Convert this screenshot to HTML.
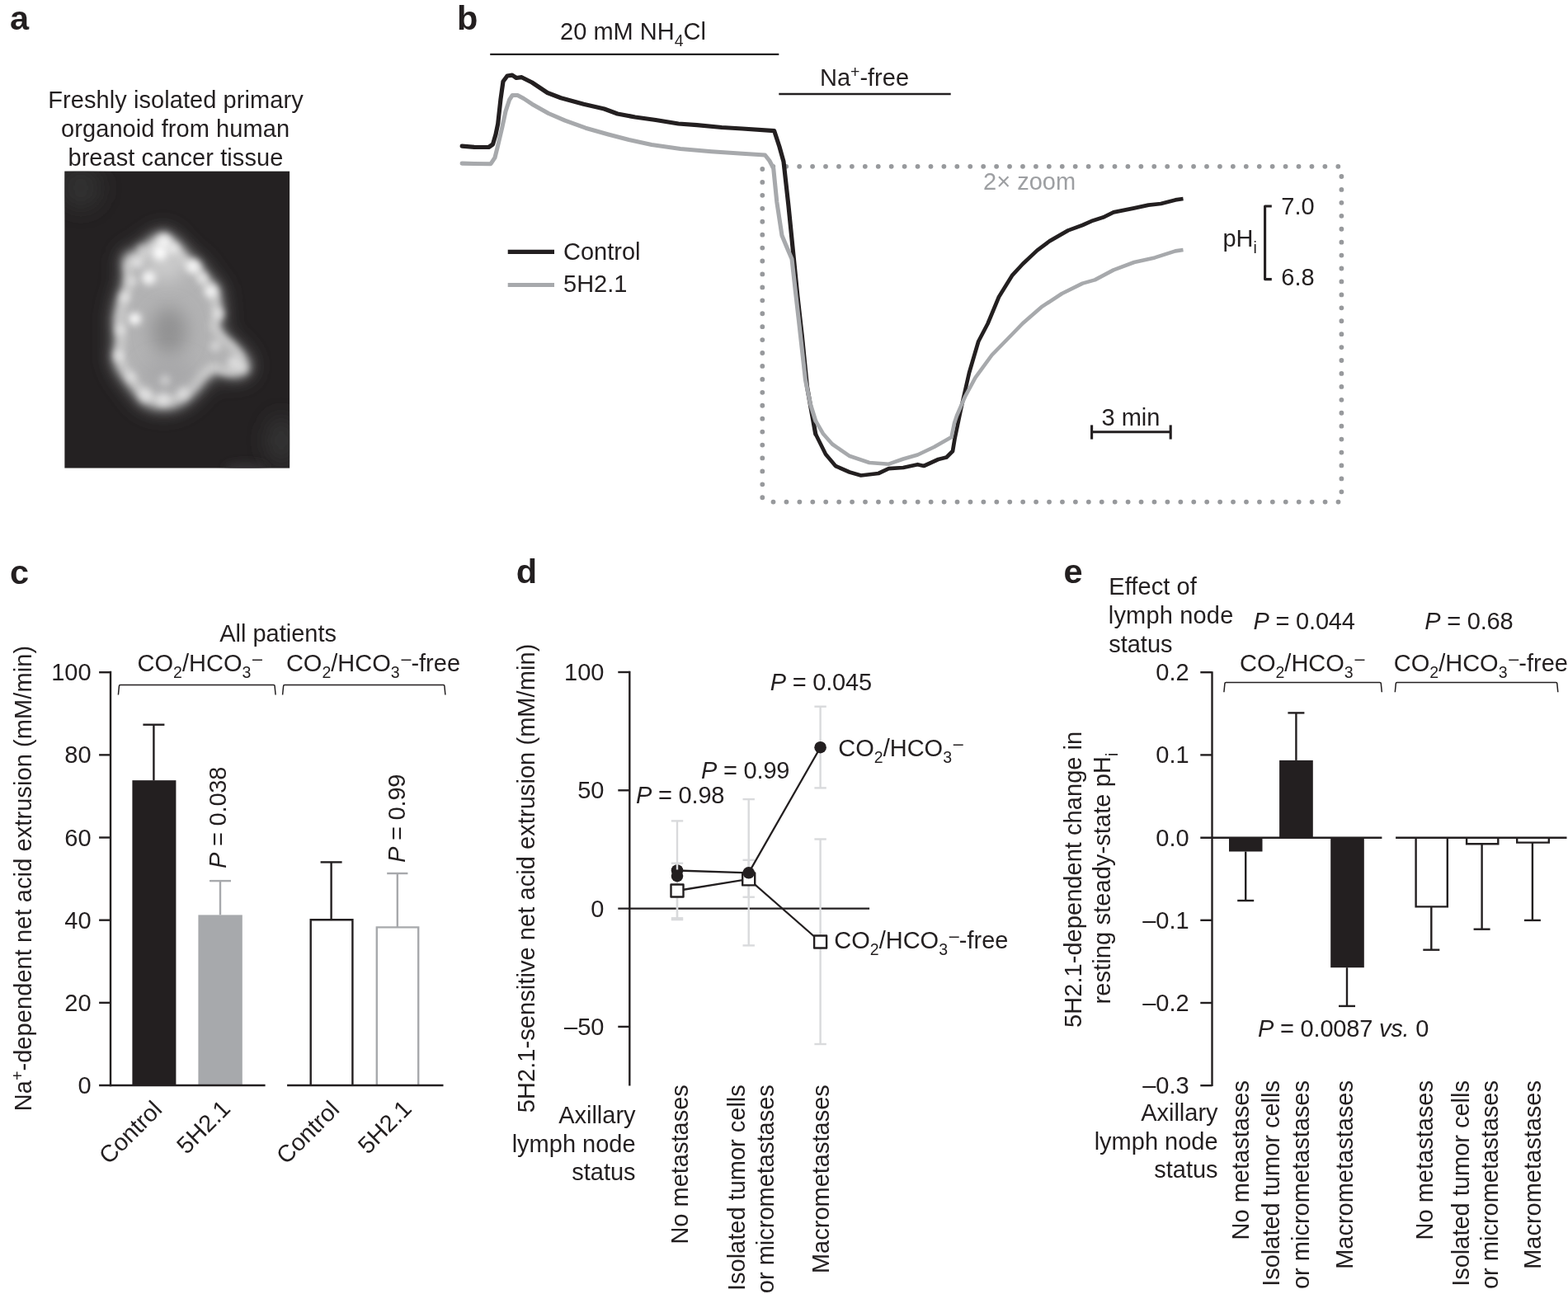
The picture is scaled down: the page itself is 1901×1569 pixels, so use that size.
<!DOCTYPE html>
<html lang="en">
<head>
<meta charset="utf-8">
<title>Figure</title>
<style>
html,body{margin:0;padding:0;background:#fff;}
body{width:1901px;height:1569px;overflow:hidden;}
svg{display:block;font-family:'Liberation Sans', sans-serif;}
</style>
</head>
<body>
<svg width="1901" height="1569" viewBox="0 0 1901 1569">
<defs>
<filter id="b6" filterUnits="userSpaceOnUse" x="0" y="120" width="440" height="540"><feGaussianBlur stdDeviation="5.5"/></filter>
<filter id="b3" x="-100%" y="-100%" width="300%" height="300%"><feGaussianBlur stdDeviation="4.2"/></filter>
<filter id="b8" filterUnits="userSpaceOnUse" x="0" y="120" width="440" height="540"><feGaussianBlur stdDeviation="8"/></filter>
<filter id="b10" filterUnits="userSpaceOnUse" x="0" y="120" width="440" height="540"><feGaussianBlur stdDeviation="11"/></filter>
<filter id="b16" filterUnits="userSpaceOnUse" x="0" y="120" width="440" height="540"><feGaussianBlur stdDeviation="13"/></filter>
<clipPath id="imgclip"><rect x="78.2" y="207.4" width="273.1" height="360.3"/></clipPath>
</defs>
<text x="11.90" y="36.00" font-size="41.50" fill="#231f20" font-weight="bold"><tspan>a</tspan></text>
<text x="554.00" y="36.00" font-size="41.50" fill="#231f20" font-weight="bold"><tspan>b</tspan></text>
<text x="12.10" y="708.00" font-size="41.50" fill="#231f20" font-weight="bold"><tspan>c</tspan></text>
<text x="625.70" y="707.40" font-size="41.50" fill="#231f20" font-weight="bold"><tspan>d</tspan></text>
<text x="1289.50" y="706.80" font-size="41.50" fill="#231f20" font-weight="bold"><tspan>e</tspan></text>
<text x="213.00" y="131.00" font-size="29.00" fill="#231f20" text-anchor="middle" letter-spacing="0.070"><tspan>Freshly isolated primary</tspan></text>
<text x="212.60" y="166.00" font-size="29.00" fill="#231f20" text-anchor="middle" letter-spacing="0.070"><tspan>organoid from human</tspan></text>
<text x="212.90" y="201.00" font-size="29.00" fill="#231f20" text-anchor="middle" letter-spacing="0.070"><tspan>breast cancer tissue</tspan></text>
<g clip-path="url(#imgclip)">
<rect x="78.20" y="207.40" width="273.10" height="360.30" fill="#242122"/>
<circle cx="98" cy="228" r="26" fill="#323132" filter="url(#b16)"/>
<ellipse cx="341" cy="534" rx="18" ry="30" fill="#353435" filter="url(#b16)"/>
<ellipse cx="298" cy="568" rx="26" ry="7" fill="#343334" filter="url(#b6)"/>
<g transform="translate(208,395) scale(0.985) translate(-208,-395)">
<polygon points="199.8,280.0 213.0,290.8 227.3,310.0 241.6,317.0 251.2,333.8 265.5,348.0 268.0,367.3 270.3,381.6 265.5,396.0 275.0,410.3 289.4,422.3 301.4,436.6 303.8,448.6 294.2,457.0 279.9,457.0 265.5,451.0 251.2,460.5 239.3,474.9 224.9,489.2 208.2,496.4 189.0,496.4 172.3,490.4 160.4,474.9 150.8,462.9 141.3,448.6 136.5,434.2 140.0,415.1 137.7,386.4 142.5,362.5 149.6,343.4 150.8,326.7 148.4,312.3 155.6,305.2 167.5,302.8 177.1,293.2 189.0,283.7" fill="#4a494a" stroke="#4a494a" stroke-width="10" stroke-linejoin="round" filter="url(#b16)"/>
<polygon points="199.8,280.0 213.0,290.8 227.3,310.0 241.6,317.0 251.2,333.8 265.5,348.0 268.0,367.3 270.3,381.6 265.5,396.0 275.0,410.3 289.4,422.3 301.4,436.6 303.8,448.6 294.2,457.0 279.9,457.0 265.5,451.0 251.2,460.5 239.3,474.9 224.9,489.2 208.2,496.4 189.0,496.4 172.3,490.4 160.4,474.9 150.8,462.9 141.3,448.6 136.5,434.2 140.0,415.1 137.7,386.4 142.5,362.5 149.6,343.4 150.8,326.7 148.4,312.3 155.6,305.2 167.5,302.8 177.1,293.2 189.0,283.7" fill="#6e6d6e" stroke="#6e6d6e" stroke-width="6" stroke-linejoin="round" filter="url(#b8)"/>
<polygon points="199.8,280.0 213.0,290.8 227.3,310.0 241.6,317.0 251.2,333.8 265.5,348.0 268.0,367.3 270.3,381.6 265.5,396.0 275.0,410.3 289.4,422.3 301.4,436.6 303.8,448.6 294.2,457.0 279.9,457.0 265.5,451.0 251.2,460.5 239.3,474.9 224.9,489.2 208.2,496.4 189.0,496.4 172.3,490.4 160.4,474.9 150.8,462.9 141.3,448.6 136.5,434.2 140.0,415.1 137.7,386.4 142.5,362.5 149.6,343.4 150.8,326.7 148.4,312.3 155.6,305.2 167.5,302.8 177.1,293.2 189.0,283.7" fill="#b2b2b3" filter="url(#b6)"/>
<polygon points="199.8,280.0 213.0,290.8 227.3,310.0 241.6,317.0 251.2,333.8 265.5,348.0 268.0,367.3 270.3,381.6 265.5,396.0 275.0,410.3 289.4,422.3 301.4,436.6 303.8,448.6 294.2,457.0 279.9,457.0 265.5,451.0 251.2,460.5 239.3,474.9 224.9,489.2 208.2,496.4 189.0,496.4 172.3,490.4 160.4,474.9 150.8,462.9 141.3,448.6 136.5,434.2 140.0,415.1 137.7,386.4 142.5,362.5 149.6,343.4 150.8,326.7 148.4,312.3 155.6,305.2 167.5,302.8 177.1,293.2 189.0,283.7" fill="none" stroke="#d2d2d2" stroke-width="9" stroke-linejoin="round" filter="url(#b6)" transform="translate(205,392) scale(0.9) translate(-205,-392)"/>
<ellipse cx="205" cy="402" rx="22" ry="30" fill="#929293" filter="url(#b10)"/>
<ellipse cx="205" cy="455" rx="34" ry="20" fill="#a4a4a5" fill-opacity="0.7" filter="url(#b10)"/>
<ellipse cx="200" cy="318" rx="26" ry="22" fill="#d4d4d4" fill-opacity="0.75" filter="url(#b10)"/>
<circle cx="198.6" cy="291" r="8.5" fill="#ffffff" fill-opacity="0.75" filter="url(#b3)"/>
<circle cx="193.8" cy="305" r="9.5" fill="#ffffff" fill-opacity="0.9" filter="url(#b3)"/>
<circle cx="180" cy="336" r="8.5" fill="#ffffff" fill-opacity="0.85" filter="url(#b3)"/>
<circle cx="234.5" cy="322" r="8.5" fill="#ffffff" fill-opacity="0.8" filter="url(#b3)"/>
<circle cx="256" cy="353" r="7.5" fill="#ffffff" fill-opacity="0.8" filter="url(#b3)"/>
<circle cx="162.8" cy="386.4" r="7.5" fill="#ffffff" fill-opacity="0.95" filter="url(#b3)"/>
<circle cx="210" cy="300" r="6.5" fill="#ffffff" fill-opacity="0.6" filter="url(#b3)"/>
<circle cx="166" cy="318" r="6.5" fill="#ffffff" fill-opacity="0.5" filter="url(#b3)"/>
<circle cx="150" cy="360" r="6.5" fill="#ffffff" fill-opacity="0.5" filter="url(#b3)"/>
<circle cx="145" cy="400" r="6.5" fill="#ffffff" fill-opacity="0.45" filter="url(#b3)"/>
<circle cx="143" cy="432" r="6.5" fill="#ffffff" fill-opacity="0.5" filter="url(#b3)"/>
<circle cx="158" cy="458" r="6.5" fill="#ffffff" fill-opacity="0.4" filter="url(#b3)"/>
<circle cx="176" cy="480" r="8.5" fill="#ffffff" fill-opacity="0.45" filter="url(#b3)"/>
<circle cx="198" cy="486" r="8.5" fill="#ffffff" fill-opacity="0.45" filter="url(#b3)"/>
<circle cx="222" cy="478" r="7.5" fill="#ffffff" fill-opacity="0.4" filter="url(#b3)"/>
<circle cx="262" cy="420" r="6.5" fill="#ffffff" fill-opacity="0.45" filter="url(#b3)"/>
<circle cx="284" cy="440" r="7.5" fill="#ffffff" fill-opacity="0.5" filter="url(#b3)"/>
<circle cx="296" cy="448" r="6.5" fill="#ffffff" fill-opacity="0.4" filter="url(#b3)"/>
<circle cx="266" cy="380" r="6.5" fill="#ffffff" fill-opacity="0.5" filter="url(#b3)"/>
<circle cx="246" cy="336" r="6.5" fill="#ffffff" fill-opacity="0.55" filter="url(#b3)"/>
<circle cx="170" cy="300" r="5.5" fill="#ffffff" fill-opacity="0.4" filter="url(#b3)"/>
<circle cx="160" cy="340" r="5.5" fill="#ffffff" fill-opacity="0.45" filter="url(#b3)"/>
<circle cx="200" cy="462" r="6.5" fill="#ffffff" fill-opacity="0.4" filter="url(#b3)"/>
</g>
</g>
<text x="767.50" y="48.00" font-size="29.00" fill="#231f20" text-anchor="middle"><tspan>20 mM NH</tspan><tspan dy="8.30" font-size="19.50">4</tspan><tspan dy="-8.30">Cl</tspan></text>
<line x1="594.20" y1="65.90" x2="944.30" y2="65.90" stroke="#231f20" stroke-width="2.40"/>
<text x="1048.00" y="103.70" font-size="29.00" fill="#231f20" text-anchor="middle"><tspan>Na</tspan><tspan dy="-10.00" font-size="19.50">+</tspan><tspan dy="10.00">-free</tspan></text>
<line x1="944.30" y1="114.00" x2="1152.70" y2="114.00" stroke="#231f20" stroke-width="2.40"/>
<path d="M937.3,201.8 H1622.6" fill="none" stroke="#97999c" stroke-width="5.8" stroke-linecap="round" stroke-dasharray="0.01 15.92"/>
<path d="M1626.4,214.0 V597.2" fill="none" stroke="#97999c" stroke-width="5.8" stroke-linecap="round" stroke-dasharray="0.01 15.92"/>
<path d="M937.5,608.6 H1622.6" fill="none" stroke="#97999c" stroke-width="5.8" stroke-linecap="round" stroke-dasharray="0.01 15.92"/>
<path d="M924.3,205.0 V604.1" fill="none" stroke="#97999c" stroke-width="5.8" stroke-linecap="round" stroke-dasharray="0.01 15.92"/>
<text x="1192.10" y="230.00" font-size="29.00" fill="#9d9fa2"><tspan>2× zoom</tspan></text>
<polyline points="988.7,526.0 1001.0,550.7 1013.0,565.0 1030.0,572.5 1043.8,576.5 1065.0,574.0 1077.5,568.2 1095.0,567.0 1112.5,563.2 1120.0,565.0 1137.5,557.0 1147.5,554.5 1155.0,547.0 1157.5,532.0 1165.0,496.0 1175.0,452.0 1186.2,414.0 1197.5,392.5 1211.0,360.0 1227.4,333.6 1240.0,320.0 1257.4,303.6 1272.4,292.4 1295.0,279.4 1312.4,273.0 1325.0,267.4 1337.4,263.6 1350.0,257.4 1375.0,252.4 1392.4,248.6 1407.4,247.0 1425.0,242.4 1434.5,241.0" fill="none" stroke="#231f20" stroke-width="4.70" stroke-linejoin="round"/>
<polyline points="560.1,177.1 575.0,178.3 592.5,178.5 597.5,175.0 601.0,163.0 603.7,150.0 607.0,120.0 610.0,98.7 615.0,92.0 621.0,91.2 626.0,94.5 632.5,93.7 645.0,100.0 663.7,112.5 680.0,118.7 707.5,126.2 732.5,132.0 748.7,138.0 770.0,142.0 795.0,145.5 822.5,150.0 845.0,151.7 875.0,154.5 900.0,156.0 938.7,158.7 945.0,178.0 950.0,196.0 956.0,250.0 962.0,310.0 967.0,360.0 972.4,408.0 978.5,469.0 988.7,526.0" fill="none" stroke="#231f20" stroke-width="5.20" stroke-linejoin="round" stroke-linecap="round"/>
<polyline points="988.7,510.0 998.0,526.0 1009.0,538.5 1029.5,552.7 1054.0,561.0 1077.5,562.7 1095.0,556.5 1112.5,551.5 1132.5,542.0 1153.5,530.0 1157.0,513.0 1160.0,504.0 1170.0,481.0 1182.5,457.8 1202.5,430.5 1222.5,410.0 1240.0,392.0 1262.4,372.4 1287.4,356.0 1312.4,343.6 1327.4,339.4 1350.0,327.4 1375.0,318.0 1400.0,312.4 1425.0,304.4 1434.5,303.0" fill="none" stroke="#a7a9ac" stroke-width="4.60" stroke-linejoin="round"/>
<polyline points="560.1,198.1 575.0,198.5 595.0,198.7 600.0,191.2 604.0,175.0 608.7,155.0 613.0,135.0 617.5,121.2 621.2,115.5 627.5,115.5 635.0,119.5 645.0,126.2 665.0,137.5 685.0,146.2 710.0,155.2 737.5,163.0 762.5,169.5 790.0,175.5 825.0,180.5 862.5,183.7 900.0,186.2 927.5,188.0 933.0,195.0 937.7,204.0 941.8,244.8 948.0,285.5 954.0,300.0 960.0,314.0 964.0,350.0 968.3,387.5 976.5,461.0 982.5,490.0 988.7,510.0" fill="none" stroke="#a7a9ac" stroke-width="5.10" stroke-linejoin="round" stroke-linecap="round"/>
<line x1="615.70" y1="305.40" x2="672.00" y2="305.40" stroke="#231f20" stroke-width="5.20"/>
<line x1="615.70" y1="345.50" x2="672.00" y2="345.50" stroke="#a7a9ac" stroke-width="5.00"/>
<text x="683.00" y="315.30" font-size="29.00" fill="#231f20"><tspan>Control</tspan></text>
<text x="683.00" y="354.30" font-size="29.00" fill="#231f20"><tspan>5H2.1</tspan></text>
<polyline points="1541.8,250.0 1533.6,250.0 1533.6,338.6 1541.8,338.6" fill="none" stroke="#231f20" stroke-width="3.10" stroke-linejoin="round"/>
<text x="1482.40" y="298.80" font-size="29.00" fill="#231f20"><tspan>pH</tspan><tspan dy="8.30" font-size="19.50">i</tspan></text>
<text x="1553.30" y="260.00" font-size="29.00" fill="#231f20"><tspan>7.0</tspan></text>
<text x="1553.30" y="346.20" font-size="29.00" fill="#231f20"><tspan>6.8</tspan></text>
<line x1="1323.60" y1="523.70" x2="1419.20" y2="523.70" stroke="#231f20" stroke-width="3.10"/>
<line x1="1323.60" y1="515.40" x2="1323.60" y2="532.60" stroke="#231f20" stroke-width="3.10"/>
<line x1="1419.20" y1="515.40" x2="1419.20" y2="532.60" stroke="#231f20" stroke-width="3.10"/>
<text x="1371.00" y="515.70" font-size="29.00" fill="#231f20" text-anchor="middle"><tspan>3 min</tspan></text>
<text x="337.10" y="777.50" font-size="29.00" fill="#231f20" text-anchor="middle"><tspan>All patients</tspan></text>
<text x="166.60" y="814.10" font-size="29.00" fill="#231f20"><tspan>CO</tspan><tspan dy="8.30" font-size="19.50">2</tspan><tspan dy="-8.30">/HCO</tspan><tspan dy="8.30" font-size="19.50">3</tspan><tspan dy="-16.30" font-size="21.5" dx="1.8">–</tspan></text>
<text x="346.90" y="814.10" font-size="29.00" fill="#231f20"><tspan>CO</tspan><tspan dy="8.30" font-size="19.50">2</tspan><tspan dy="-8.30">/HCO</tspan><tspan dy="8.30" font-size="19.50">3</tspan><tspan dy="-16.30" font-size="21.5" dx="1.8">–</tspan><tspan dy="8.00">-free</tspan></text>
<path d="M143.4,842.5 L144.4,832.0 Q144.4,830.5 145.9,830.5 L331.6,830.5 Q333.1,830.5 333.1,832.0 L334.1,842.5" fill="none" stroke="#231f20" stroke-width="1.5"/>
<path d="M342.6,842.5 L343.6,832.0 Q343.6,830.5 345.1,830.5 L537.4,830.5 Q538.9,830.5 538.9,832.0 L539.9,842.5" fill="none" stroke="#231f20" stroke-width="1.5"/>
<rect x="160.40" y="946.16" width="53.00" height="369.84" fill="#231f20"/>
<line x1="186.40" y1="878.70" x2="186.40" y2="946.16" stroke="#231f20" stroke-width="2.40"/>
<line x1="173.40" y1="878.70" x2="199.40" y2="878.70" stroke="#231f20" stroke-width="2.40"/>
<rect x="240.40" y="1109.40" width="53.40" height="206.60" fill="#a7a9ac"/>
<line x1="267.00" y1="1068.10" x2="267.00" y2="1109.40" stroke="#a7a9ac" stroke-width="2.40"/>
<line x1="254.00" y1="1068.10" x2="280.00" y2="1068.10" stroke="#a7a9ac" stroke-width="2.40"/>
<path d="M376.70,1316.00 V1115.30 H427.40 V1316.00" fill="#fff" stroke="#231f20" stroke-width="2.40" stroke-linejoin="miter"/>
<line x1="401.60" y1="1045.40" x2="401.60" y2="1115.30" stroke="#231f20" stroke-width="2.40"/>
<line x1="388.60" y1="1045.40" x2="414.60" y2="1045.40" stroke="#231f20" stroke-width="2.40"/>
<path d="M456.80,1316.00 V1124.40 H507.20 V1316.00" fill="#fff" stroke="#a7a9ac" stroke-width="2.40" stroke-linejoin="miter"/>
<line x1="481.80" y1="1059.00" x2="481.80" y2="1124.40" stroke="#a7a9ac" stroke-width="2.40"/>
<line x1="469.20" y1="1059.00" x2="494.40" y2="1059.00" stroke="#a7a9ac" stroke-width="2.40"/>
<line x1="134.00" y1="813.80" x2="134.00" y2="1317.20" stroke="#231f20" stroke-width="2.40"/>
<line x1="120.10" y1="1316.00" x2="321.60" y2="1316.00" stroke="#231f20" stroke-width="2.40"/>
<line x1="348.10" y1="1316.00" x2="537.50" y2="1316.00" stroke="#231f20" stroke-width="2.40"/>
<line x1="120.10" y1="1215.84" x2="134.00" y2="1215.84" stroke="#231f20" stroke-width="2.40"/>
<line x1="120.10" y1="1115.68" x2="134.00" y2="1115.68" stroke="#231f20" stroke-width="2.40"/>
<line x1="120.10" y1="1015.52" x2="134.00" y2="1015.52" stroke="#231f20" stroke-width="2.40"/>
<line x1="120.10" y1="915.36" x2="134.00" y2="915.36" stroke="#231f20" stroke-width="2.40"/>
<line x1="120.10" y1="815.20" x2="134.00" y2="815.20" stroke="#231f20" stroke-width="2.40"/>
<text x="110.60" y="1326.00" font-size="29.00" fill="#231f20" text-anchor="end"><tspan>0</tspan></text>
<text x="110.60" y="1225.84" font-size="29.00" fill="#231f20" text-anchor="end"><tspan>20</tspan></text>
<text x="110.60" y="1125.68" font-size="29.00" fill="#231f20" text-anchor="end"><tspan>40</tspan></text>
<text x="110.60" y="1025.52" font-size="29.00" fill="#231f20" text-anchor="end"><tspan>60</tspan></text>
<text x="110.60" y="925.36" font-size="29.00" fill="#231f20" text-anchor="end"><tspan>80</tspan></text>
<text x="110.60" y="825.20" font-size="29.00" fill="#231f20" text-anchor="end"><tspan>100</tspan></text>
<text x="0" y="0" transform="translate(37.50,1065.10) rotate(-90)" font-size="29.00" fill="#231f20" text-anchor="middle" letter-spacing="0.083"><tspan>Na</tspan><tspan dy="-10.00" font-size="19.50">+</tspan><tspan dy="10.00">-dependent net acid extrusion (mM/min)</tspan></text>
<text x="0" y="0" transform="translate(274.30,1053.00) rotate(-90)" font-size="29.00" fill="#231f20" letter-spacing="-0.200"><tspan font-style="italic">P</tspan><tspan> = 0.038</tspan></text>
<text x="0" y="0" transform="translate(491.30,1046.00) rotate(-90)" font-size="29.00" fill="#231f20" letter-spacing="-0.200"><tspan font-style="italic">P</tspan><tspan> = 0.99</tspan></text>
<text x="0" y="0" transform="translate(198.00,1347.00) rotate(-45)" font-size="29.00" fill="#231f20" text-anchor="end"><tspan>Control</tspan></text>
<text x="0" y="0" transform="translate(281.00,1346.00) rotate(-45)" font-size="29.00" fill="#231f20" text-anchor="end"><tspan>5H2.1</tspan></text>
<text x="0" y="0" transform="translate(413.00,1347.00) rotate(-45)" font-size="29.00" fill="#231f20" text-anchor="end"><tspan>Control</tspan></text>
<text x="0" y="0" transform="translate(500.60,1346.00) rotate(-45)" font-size="29.00" fill="#231f20" text-anchor="end"><tspan>5H2.1</tspan></text>
<line x1="763.30" y1="813.80" x2="763.30" y2="1316.60" stroke="#231f20" stroke-width="2.40"/>
<line x1="749.30" y1="815.00" x2="763.30" y2="815.00" stroke="#231f20" stroke-width="2.40"/>
<line x1="749.30" y1="958.30" x2="763.30" y2="958.30" stroke="#231f20" stroke-width="2.40"/>
<line x1="749.30" y1="1244.90" x2="763.30" y2="1244.90" stroke="#231f20" stroke-width="2.40"/>
<line x1="749.30" y1="1101.60" x2="1054.10" y2="1101.60" stroke="#231f20" stroke-width="2.40"/>
<text x="732.40" y="825.00" font-size="29.00" fill="#231f20" text-anchor="end"><tspan>100</tspan></text>
<text x="732.40" y="968.30" font-size="29.00" fill="#231f20" text-anchor="end"><tspan>50</tspan></text>
<text x="732.40" y="1111.60" font-size="29.00" fill="#231f20" text-anchor="end"><tspan>0</tspan></text>
<text x="732.40" y="1254.90" font-size="29.00" fill="#231f20" text-anchor="end"><tspan>–50</tspan></text>
<text x="0" y="0" transform="translate(648.00,1064.90) rotate(-90)" font-size="29.00" fill="#231f20" text-anchor="middle" letter-spacing="0.066"><tspan>5H2.1-sensitive net acid extrusion (mM/min)</tspan></text>
<line x1="821.00" y1="995.40" x2="821.00" y2="1115.10" stroke="#d9dadc" stroke-width="2.40"/>
<line x1="813.80" y1="995.40" x2="828.20" y2="995.40" stroke="#d9dadc" stroke-width="2.40"/>
<line x1="813.80" y1="1115.10" x2="828.20" y2="1115.10" stroke="#d9dadc" stroke-width="2.40"/>
<line x1="907.70" y1="969.10" x2="907.70" y2="1146.40" stroke="#d9dadc" stroke-width="2.40"/>
<line x1="900.50" y1="969.10" x2="914.90" y2="969.10" stroke="#d9dadc" stroke-width="2.40"/>
<line x1="900.50" y1="1146.40" x2="914.90" y2="1146.40" stroke="#d9dadc" stroke-width="2.40"/>
<line x1="994.60" y1="856.70" x2="994.60" y2="955.40" stroke="#d9dadc" stroke-width="2.40"/>
<line x1="987.40" y1="856.70" x2="1001.80" y2="856.70" stroke="#d9dadc" stroke-width="2.40"/>
<line x1="987.40" y1="955.40" x2="1001.80" y2="955.40" stroke="#d9dadc" stroke-width="2.40"/>
<line x1="821.00" y1="1046.70" x2="821.00" y2="1113.30" stroke="#d9dadc" stroke-width="2.40"/>
<line x1="813.80" y1="1046.70" x2="828.20" y2="1046.70" stroke="#d9dadc" stroke-width="2.40"/>
<line x1="813.80" y1="1113.30" x2="828.20" y2="1113.30" stroke="#d9dadc" stroke-width="2.40"/>
<line x1="907.70" y1="1042.80" x2="907.70" y2="1087.70" stroke="#d9dadc" stroke-width="2.40"/>
<line x1="900.50" y1="1042.80" x2="914.90" y2="1042.80" stroke="#d9dadc" stroke-width="2.40"/>
<line x1="900.50" y1="1087.70" x2="914.90" y2="1087.70" stroke="#d9dadc" stroke-width="2.40"/>
<line x1="994.60" y1="1017.50" x2="994.60" y2="1266.00" stroke="#d9dadc" stroke-width="2.40"/>
<line x1="987.40" y1="1017.50" x2="1001.80" y2="1017.50" stroke="#d9dadc" stroke-width="2.40"/>
<line x1="987.40" y1="1266.00" x2="1001.80" y2="1266.00" stroke="#d9dadc" stroke-width="2.40"/>
<polyline points="821.0,1055.5 907.7,1058.3 994.6,906.2" fill="none" stroke="#231f20" stroke-width="2.30"/>
<polyline points="821.0,1080.0 907.7,1065.9 994.6,1142.0" fill="none" stroke="#231f20" stroke-width="2.30"/>
<rect x="813.50" y="1072.50" width="15" height="15" fill="#fff" stroke="#231f20" stroke-width="2.4" stroke-linejoin="round"/>
<rect x="900.20" y="1058.40" width="15" height="15" fill="#fff" stroke="#231f20" stroke-width="2.4" stroke-linejoin="round"/>
<rect x="987.10" y="1134.50" width="15" height="15" fill="#fff" stroke="#231f20" stroke-width="2.4" stroke-linejoin="round"/>
<circle cx="821.0" cy="1055.5" r="7.3" fill="#231f20"/>
<circle cx="907.7" cy="1058.3" r="7.3" fill="#231f20"/>
<circle cx="994.6" cy="906.2" r="7.3" fill="#231f20"/>
<line x1="821.00" y1="1046.70" x2="821.00" y2="1054.60" stroke="#d9dadc" stroke-width="2.40"/>
<circle cx="821.0" cy="1062.1" r="7.3" fill="#231f20"/>
<text x="771.00" y="973.60" font-size="29.00" fill="#231f20" letter-spacing="-0.200"><tspan font-style="italic">P</tspan><tspan> = 0.98</tspan></text>
<text x="850.00" y="943.60" font-size="29.00" fill="#231f20" letter-spacing="-0.200"><tspan font-style="italic">P</tspan><tspan> = 0.99</tspan></text>
<text x="933.70" y="836.90" font-size="29.00" fill="#231f20" letter-spacing="-0.200"><tspan font-style="italic">P</tspan><tspan> = 0.045</tspan></text>
<text x="1016.30" y="916.50" font-size="29.00" fill="#231f20"><tspan>CO</tspan><tspan dy="8.30" font-size="19.50">2</tspan><tspan dy="-8.30">/HCO</tspan><tspan dy="8.30" font-size="19.50">3</tspan><tspan dy="-16.30" font-size="21.5" dx="1.8">–</tspan></text>
<text x="1011.30" y="1149.80" font-size="29.00" fill="#231f20"><tspan>CO</tspan><tspan dy="8.30" font-size="19.50">2</tspan><tspan dy="-8.30">/HCO</tspan><tspan dy="8.30" font-size="19.50">3</tspan><tspan dy="-16.30" font-size="21.5" dx="1.8">–</tspan><tspan dy="8.00">-free</tspan></text>
<text x="770.60" y="1362.40" font-size="29.00" fill="#231f20" text-anchor="end"><tspan>Axillary</tspan></text>
<text x="770.60" y="1396.90" font-size="29.00" fill="#231f20" text-anchor="end"><tspan>lymph node</tspan></text>
<text x="770.60" y="1431.40" font-size="29.00" fill="#231f20" text-anchor="end"><tspan>status</tspan></text>
<text x="0" y="0" transform="translate(833.70,1315.20) rotate(-90)" font-size="29.00" fill="#231f20" text-anchor="end"><tspan>No metastases</tspan></text>
<text x="0" y="0" transform="translate(903.20,1315.20) rotate(-90)" font-size="29.00" fill="#231f20" text-anchor="end"><tspan>Isolated tumor cells</tspan></text>
<text x="0" y="0" transform="translate(938.20,1315.20) rotate(-90)" font-size="29.00" fill="#231f20" text-anchor="end"><tspan>or micrometastases</tspan></text>
<text x="0" y="0" transform="translate(1004.90,1315.20) rotate(-90)" font-size="29.00" fill="#231f20" text-anchor="end"><tspan>Macrometastases</tspan></text>
<text x="1344.20" y="721.10" font-size="29.00" fill="#231f20" letter-spacing="0.100"><tspan>Effect of</tspan></text>
<text x="1343.80" y="756.20" font-size="29.00" fill="#231f20" letter-spacing="0.170"><tspan>lymph node</tspan></text>
<text x="1344.20" y="791.00" font-size="29.00" fill="#231f20"><tspan>status</tspan></text>
<text x="1519.50" y="763.00" font-size="29.00" fill="#231f20" letter-spacing="-0.200"><tspan font-style="italic">P</tspan><tspan> = 0.044</tspan></text>
<text x="1727.20" y="763.00" font-size="29.00" fill="#231f20" letter-spacing="-0.200"><tspan font-style="italic">P</tspan><tspan> = 0.68</tspan></text>
<text x="1503.00" y="814.10" font-size="29.00" fill="#231f20"><tspan>CO</tspan><tspan dy="8.30" font-size="19.50">2</tspan><tspan dy="-8.30">/HCO</tspan><tspan dy="8.30" font-size="19.50">3</tspan><tspan dy="-16.30" font-size="21.5" dx="1.8">–</tspan></text>
<text x="1689.80" y="814.10" font-size="29.00" fill="#231f20"><tspan>CO</tspan><tspan dy="8.30" font-size="19.50">2</tspan><tspan dy="-8.30">/HCO</tspan><tspan dy="8.30" font-size="19.50">3</tspan><tspan dy="-16.30" font-size="21.5" dx="1.8">–</tspan><tspan dy="8.00">-free</tspan></text>
<path d="M1483.9,839.3 L1484.9,828.9 Q1484.9,827.4 1486.4,827.4 L1672.8,827.4 Q1674.3,827.4 1674.3,828.9 L1675.3,839.3" fill="none" stroke="#231f20" stroke-width="1.5"/>
<path d="M1691.3,839.3 L1692.3,828.9 Q1692.3,827.4 1693.8,827.4 L1886.3,827.4 Q1887.8,827.4 1887.8,828.9 L1888.8,839.3" fill="none" stroke="#231f20" stroke-width="1.5"/>
<rect x="1490.00" y="1015.60" width="40.50" height="16.90" fill="#231f20"/>
<line x1="1510.20" y1="1092.00" x2="1510.20" y2="1032.50" stroke="#231f20" stroke-width="2.40"/>
<line x1="1500.20" y1="1092.00" x2="1520.20" y2="1092.00" stroke="#231f20" stroke-width="2.40"/>
<rect x="1551.10" y="921.90" width="40.70" height="93.70" fill="#231f20"/>
<line x1="1571.40" y1="864.40" x2="1571.40" y2="921.90" stroke="#231f20" stroke-width="2.40"/>
<line x1="1561.40" y1="864.40" x2="1581.40" y2="864.40" stroke="#231f20" stroke-width="2.40"/>
<rect x="1613.20" y="1015.60" width="40.60" height="157.60" fill="#231f20"/>
<line x1="1633.00" y1="1219.90" x2="1633.00" y2="1173.20" stroke="#231f20" stroke-width="2.40"/>
<line x1="1623.00" y1="1219.90" x2="1643.00" y2="1219.90" stroke="#231f20" stroke-width="2.40"/>
<path d="M1716.60,1015.60 V1099.40 H1754.80 V1015.60" fill="#fff" stroke="#231f20" stroke-width="2.40" stroke-linejoin="miter"/>
<line x1="1735.30" y1="1151.70" x2="1735.30" y2="1099.40" stroke="#231f20" stroke-width="2.40"/>
<line x1="1725.30" y1="1151.70" x2="1745.30" y2="1151.70" stroke="#231f20" stroke-width="2.40"/>
<path d="M1778.10,1015.60 V1023.30 H1816.30 V1015.60" fill="#fff" stroke="#231f20" stroke-width="2.40" stroke-linejoin="miter"/>
<line x1="1796.60" y1="1126.70" x2="1796.60" y2="1023.30" stroke="#231f20" stroke-width="2.40"/>
<line x1="1786.60" y1="1126.70" x2="1806.60" y2="1126.70" stroke="#231f20" stroke-width="2.40"/>
<path d="M1839.20,1015.60 V1021.60 H1877.80 V1015.60" fill="#fff" stroke="#231f20" stroke-width="2.40" stroke-linejoin="miter"/>
<line x1="1857.90" y1="1115.90" x2="1857.90" y2="1021.60" stroke="#231f20" stroke-width="2.40"/>
<line x1="1847.90" y1="1115.90" x2="1867.90" y2="1115.90" stroke="#231f20" stroke-width="2.40"/>
<line x1="1469.50" y1="814.20" x2="1469.50" y2="1317.00" stroke="#231f20" stroke-width="2.40"/>
<line x1="1455.30" y1="1015.70" x2="1675.40" y2="1015.70" stroke="#231f20" stroke-width="2.40"/>
<line x1="1692.10" y1="1015.70" x2="1899.50" y2="1015.70" stroke="#231f20" stroke-width="2.40"/>
<line x1="1455.30" y1="815.20" x2="1469.50" y2="815.20" stroke="#231f20" stroke-width="2.40"/>
<line x1="1455.30" y1="915.40" x2="1469.50" y2="915.40" stroke="#231f20" stroke-width="2.40"/>
<line x1="1455.30" y1="1115.80" x2="1469.50" y2="1115.80" stroke="#231f20" stroke-width="2.40"/>
<line x1="1455.30" y1="1216.00" x2="1469.50" y2="1216.00" stroke="#231f20" stroke-width="2.40"/>
<line x1="1455.30" y1="1316.20" x2="1469.50" y2="1316.20" stroke="#231f20" stroke-width="2.40"/>
<text x="1441.60" y="825.20" font-size="29.00" fill="#231f20" text-anchor="end"><tspan>0.2</tspan></text>
<text x="1441.60" y="925.40" font-size="29.00" fill="#231f20" text-anchor="end"><tspan>0.1</tspan></text>
<text x="1441.60" y="1025.60" font-size="29.00" fill="#231f20" text-anchor="end"><tspan>0.0</tspan></text>
<text x="1441.60" y="1125.80" font-size="29.00" fill="#231f20" text-anchor="end"><tspan>–0.1</tspan></text>
<text x="1441.60" y="1226.00" font-size="29.00" fill="#231f20" text-anchor="end"><tspan>–0.2</tspan></text>
<text x="1441.60" y="1326.20" font-size="29.00" fill="#231f20" text-anchor="end"><tspan>–0.3</tspan></text>
<text x="0" y="0" transform="translate(1311.20,1066.30) rotate(-90)" font-size="29.00" fill="#231f20" text-anchor="middle" letter-spacing="0.050"><tspan>5H2.1-dependent change in</tspan></text>
<text x="0" y="0" transform="translate(1346.20,1065.00) rotate(-90)" font-size="29.00" fill="#231f20" text-anchor="middle" letter-spacing="0.100"><tspan>resting steady-state pH</tspan><tspan dy="8.30" font-size="19.50">i</tspan></text>
<text x="1525.00" y="1256.90" font-size="29.00" fill="#231f20" letter-spacing="-0.200"><tspan font-style="italic">P</tspan><tspan> = 0.0087 </tspan><tspan font-style="italic">vs.</tspan><tspan> 0</tspan></text>
<text x="1476.60" y="1359.40" font-size="29.00" fill="#231f20" text-anchor="end"><tspan>Axillary</tspan></text>
<text x="1476.60" y="1393.90" font-size="29.00" fill="#231f20" text-anchor="end"><tspan>lymph node</tspan></text>
<text x="1476.60" y="1428.10" font-size="29.00" fill="#231f20" text-anchor="end"><tspan>status</tspan></text>
<text x="0" y="0" transform="translate(1513.60,1310.00) rotate(-90)" font-size="29.00" fill="#231f20" text-anchor="end"><tspan>No metastases</tspan></text>
<text x="0" y="0" transform="translate(1551.10,1310.00) rotate(-90)" font-size="29.00" fill="#231f20" text-anchor="end"><tspan>Isolated tumor cells</tspan></text>
<text x="0" y="0" transform="translate(1586.80,1310.00) rotate(-90)" font-size="29.00" fill="#231f20" text-anchor="end"><tspan>or micrometastases</tspan></text>
<text x="0" y="0" transform="translate(1640.30,1310.00) rotate(-90)" font-size="29.00" fill="#231f20" text-anchor="end"><tspan>Macrometastases</tspan></text>
<text x="0" y="0" transform="translate(1737.10,1310.00) rotate(-90)" font-size="29.00" fill="#231f20" text-anchor="end"><tspan>No metastases</tspan></text>
<text x="0" y="0" transform="translate(1780.80,1310.00) rotate(-90)" font-size="29.00" fill="#231f20" text-anchor="end"><tspan>Isolated tumor cells</tspan></text>
<text x="0" y="0" transform="translate(1815.80,1310.00) rotate(-90)" font-size="29.00" fill="#231f20" text-anchor="end"><tspan>or micrometastases</tspan></text>
<text x="0" y="0" transform="translate(1868.30,1310.00) rotate(-90)" font-size="29.00" fill="#231f20" text-anchor="end"><tspan>Macrometastases</tspan></text>
</svg>
</body>
</html>
